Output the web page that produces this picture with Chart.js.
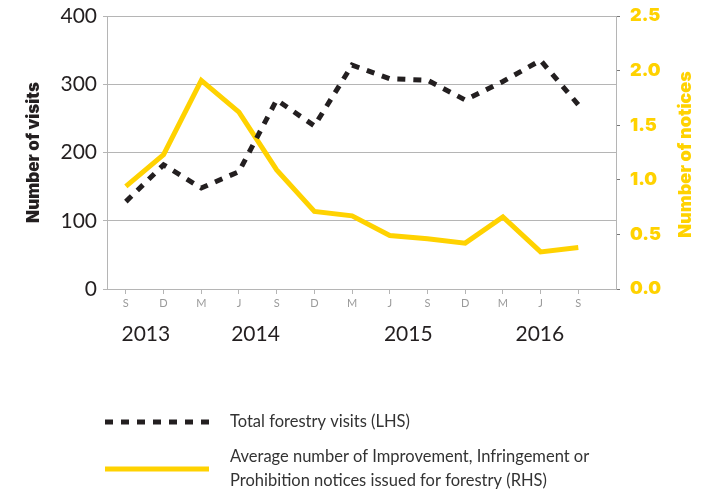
<!DOCTYPE html>
<html>
<head>
<meta charset="utf-8">
<script src="https://cdn.jsdelivr.net/npm/chart.js@4.4.1/dist/chart.umd.min.js"></script>
<style>
  html, body { margin: 0; padding: 0; background: #ffffff; }
  #wrap { position: relative; width: 704px; height: 490px; }
</style>
</head>
<body>
<div id="wrap"><canvas id="c" width="704" height="490"></canvas></div>
<script>
// ---- data ----
const months = ['S', 'D', 'M', 'J', 'S', 'D', 'M', 'J', 'S', 'D', 'M', 'J', 'S'];
const years = ['2013', '2014', '2015', '2016'];
const visits = [128, 182, 148, 172, 277, 239, 328, 308, 306, 277, 304, 335, 270];
const notices = [0.94, 1.23, 1.91, 1.62, 1.09, 0.71, 0.67, 0.49, 0.46, 0.42, 0.66, 0.34, 0.38];
const leftTicks = [0, 100, 200, 300, 400];
const rightTicks = [0, 0.5, 1.0, 1.5, 2.0, 2.5];
const visitsLabel = 'Total forestry visits (LHS)';
const noticesLabel = ['Average number of Improvement, Infringement or', 'Prohibition notices issued for forestry (RHS)'];

const BLACK = '#231F20';
const YELLOW = '#FFD200';
const GRID = '#b5b5b5';
const FONT = 'Lato, "Open Sans", sans-serif';
const HEAVY = 'Inter, Lato, sans-serif';

const extras = {
  id: 'extras',
  afterDraw(chart, args, opts) {
    const ctx = chart.ctx;
    const x = chart.scales.x;
    const area = chart.chartArea;
    ctx.save();
    // year labels
    ctx.fillStyle = BLACK;
    ctx.font = '400 21px ' + FONT;
    ctx.textAlign = 'center';
    ctx.textBaseline = 'middle';
    years.forEach((y, i) => {
      ctx.fillText(y, x.getPixelForValue(opts.yearAt[i]), 334);
    });
    // right axis title (reads bottom-to-top)
    ctx.save();
    ctx.translate(686, (area.top + area.bottom) / 2 + 2);
    ctx.rotate(-Math.PI / 2);
    ctx.fillStyle = YELLOW;
    ctx.font = '900 18px ' + HEAVY;
    ctx.textAlign = 'center';
    ctx.textBaseline = 'middle';
    ctx.fillText('Number of notices', 0, 0);
    ctx.restore();
    // legend
    const ds0 = chart.data.datasets[0];
    const ds1 = chart.data.datasets[1];
    ctx.lineCap = 'butt';
    ctx.strokeStyle = ds0.borderColor;
    ctx.lineWidth = ds0.borderWidth;
    ctx.setLineDash(ds0.borderDash);
    ctx.beginPath();
    ctx.moveTo(105, 422);
    ctx.lineTo(212, 422);
    ctx.stroke();
    ctx.setLineDash([]);
    ctx.strokeStyle = ds1.borderColor;
    ctx.lineWidth = ds1.borderWidth;
    ctx.beginPath();
    ctx.moveTo(105, 469);
    ctx.lineTo(209, 469);
    ctx.stroke();
    ctx.fillStyle = '#333333';
    ctx.font = '400 16.5px ' + FONT;
    ctx.textAlign = 'left';
    ctx.textBaseline = 'middle';
    ctx.fillText(visitsLabel, 230, 422);
    ctx.fillText(noticesLabel[0], 230, 457);
    ctx.fillText(noticesLabel[1], 230, 481);
    ctx.restore();
  }
};

new Chart(document.getElementById('c'), {
  type: 'line',
  data: {
    datasets: [
      {
        label: visitsLabel,
        data: visits.map((v, i) => ({ x: i, y: v })),
        yAxisID: 'y',
        borderColor: BLACK,
        borderWidth: 5,
        borderDash: [8, 8],
        borderCapStyle: 'butt',
        pointRadius: 0,
        tension: 0,
        fill: false
      },
      {
        label: noticesLabel.join(' '),
        data: notices.map((v, i) => ({ x: i, y: v })),
        yAxisID: 'y1',
        borderColor: YELLOW,
        borderWidth: 5,
        pointRadius: 0,
        tension: 0,
        fill: false,
        borderJoinStyle: 'miter'
      }
    ]
  },
  options: {
    responsive: false,
    animation: false,
    events: [],
    layout: { padding: { top: 16, left: 0, right: 0, bottom: 0 } },
    plugins: {
      legend: { display: false },
      tooltip: { enabled: false },
      extras: { yearAt: [0.53, 3.44, 7.49, 10.98] }
    },
    scales: {
      x: {
        type: 'linear',
        min: -0.5,
        max: 13,
        afterBuildTicks: (s) => { s.ticks = months.map((m, i) => ({ value: i })); },
        afterFit: (s) => { s.height = 201; s.paddingLeft = 0; s.paddingRight = 0; },
        ticks: {
          autoSkip: false,
          maxRotation: 0,
          padding: 3,
          color: '#9a9a9a',
          font: { family: FONT, size: 11 },
          callback: (v) => months[v] !== undefined ? months[v] : ''
        },
        grid: { drawOnChartArea: false, drawTicks: true, tickLength: 5, color: GRID },
        border: { color: GRID, width: 1 }
      },
      y: {
        position: 'left',
        min: 0,
        max: 400,
        afterBuildTicks: (s) => { s.ticks = leftTicks.map(v => ({ value: v })); },
        afterFit: (s) => { s.width = 107; s.paddingTop = 0; s.paddingBottom = 0; },
        ticks: {
          padding: 6,
          color: BLACK,
          font: { family: FONT, size: 21 }
        },
        grid: { color: GRID, tickLength: 4, lineWidth: 1 },
        border: { color: GRID, width: 1 },
        title: {
          display: true,
          text: 'Number of visits',
          color: BLACK,
          font: { family: HEAVY, size: 17, weight: '900' },
          padding: { top: 24, bottom: 0 }
        }
      },
      y1: {
        position: 'right',
        min: 0,
        max: 2.5,
        afterBuildTicks: (s) => { s.ticks = rightTicks.map(v => ({ value: v })); },
        afterFit: (s) => { s.width = 88; s.paddingTop = 0; s.paddingBottom = 0; },
        ticks: {
          padding: 10,
          color: YELLOW,
          font: { family: HEAVY, size: 18, weight: '900' },
          callback: (v) => Number(v).toFixed(1)
        },
        grid: { drawOnChartArea: false, drawTicks: true, tickLength: 4, color: '#777777' },
        border: { color: GRID, width: 1 }
      }
    }
  },
  plugins: [extras]
});
</script>
</body>
</html>
